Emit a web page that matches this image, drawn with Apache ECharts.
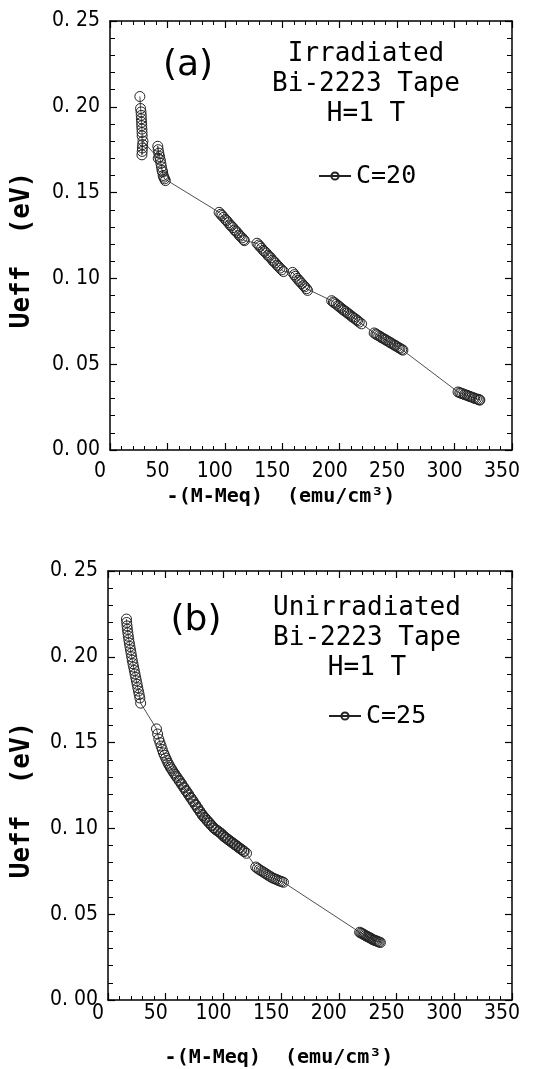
<!DOCTYPE html>
<html><head><meta charset="utf-8">
<script src="https://cdn.jsdelivr.net/npm/echarts@6/dist/echarts.min.js"></script>
<style>html,body{margin:0;padding:0;background:#fff}#c{width:542px;height:1069px}</style>
</head><body><div id="c"></div>
<script>
// ---- tick labels ----
const xTickValues = [0, 50, 100, 150, 200, 250, 300, 350];
const yTickLabels = ['0. 00', '0. 05', '0. 10', '0. 15', '0. 20', '0. 25'];

// ---- (a) Irradiated Bi-2223 Tape, H=1 T, C=20 ----
const irrX = [
  26.0, 26.6, 27.0, 27.2, 27.3, 27.5, 27.6, 27.8, 27.9, 28.0, 27.8, 28.0, 28.2, 28.4, 28.7,
  42.0, 41.6, 42.0, 42.5, 43.2, 43.8, 44.3, 44.8, 45.3, 45.8, 46.3, 46.8, 47.5, 48.2,
  95, 96.5, 97.5, 99, 100.5, 101.5, 103, 104.5, 105.5, 107, 108.5, 109.5, 111, 112.5, 113.5, 115, 116.3, 117,
  128, 129.5, 130.5, 132, 133.5, 134.5, 136, 137.5, 138.5, 140, 141.5, 142.5, 144, 145.5, 146.5, 148, 149.5, 151,
  159, 160.5, 161.5, 163, 164.5, 165.5, 167, 168.5, 169.5, 171, 172,
  193, 194.5, 195.5, 197, 198.5, 199.5, 201, 202.5, 203.5, 205, 206.5, 207.5, 209, 210.5, 211.5, 213, 214.5, 215.5, 217, 219,
  230, 231.5, 232.5, 234, 235.5, 236.5, 238, 239.5, 240.5, 242, 243.5, 244.5, 246, 247.5, 248.5, 250, 251.5, 252.5, 254, 255,
  303, 304.5, 305.5, 307, 308.5, 309.5, 311, 312.5, 313.5, 315, 316.5, 317.5, 319, 320.5, 321.5, 322
];
const irrY = [
  0.206, 0.199, 0.197, 0.195, 0.193, 0.191, 0.189, 0.187, 0.185, 0.183, 0.172, 0.174, 0.176, 0.178, 0.180,
  0.170, 0.177, 0.175, 0.173, 0.171, 0.169, 0.167, 0.165, 0.163, 0.162, 0.160, 0.159, 0.158, 0.157,
  0.1385, 0.1374, 0.1366, 0.1356, 0.1343, 0.1337, 0.1325, 0.1312, 0.1306, 0.1296, 0.1282, 0.1275, 0.1266, 0.1252, 0.1246, 0.1236, 0.1226, 0.1220,
  0.1205, 0.1195, 0.1186, 0.1176, 0.1163, 0.1157, 0.1148, 0.1135, 0.1128, 0.1120, 0.1106, 0.1099, 0.1090, 0.1077, 0.1071, 0.1060, 0.1050, 0.1040,
  0.1035, 0.1022, 0.1012, 0.1000, 0.0988, 0.0981, 0.0970, 0.0958, 0.0951, 0.0940, 0.0930,
  0.0870, 0.0862, 0.0857, 0.0850, 0.0842, 0.0836, 0.0828, 0.0820, 0.0814, 0.0808, 0.0800, 0.0794, 0.0787, 0.0779, 0.0773, 0.0767, 0.0759, 0.0753, 0.0745, 0.0735,
  0.0682, 0.0676, 0.0671, 0.0666, 0.0660, 0.0654, 0.0650, 0.0644, 0.0640, 0.0634, 0.0628, 0.0624, 0.0618, 0.0612, 0.0608, 0.0602, 0.0596, 0.0592, 0.0586, 0.0582,
  0.0338, 0.0334, 0.0331, 0.0328, 0.0324, 0.0321, 0.0318, 0.0314, 0.0311, 0.0308, 0.0304, 0.0301, 0.0298, 0.0295, 0.0292, 0.0291
];

// ---- (b) Unirradiated Bi-2223 Tape, H=1 T, C=25 ----
const unirrX = [
  16.0, 16.2, 16.5, 16.8, 17.2, 17.6, 18.0, 18.5, 19.0, 19.5, 20.0, 20.5, 21.0, 21.6, 22.2, 22.8, 23.4, 24.0, 24.6, 25.2, 25.8, 26.4, 27.0, 27.6, 28.3,
  42, 43, 44, 45, 46, 47, 48, 49, 50, 51, 52, 53, 54, 55, 56, 57, 58, 59, 60, 61.5, 62, 63.5, 64, 65.5, 66, 67.5, 68, 69.5, 70, 71.5, 72, 73.5, 74, 75.5, 76, 77.5, 78, 79.5, 80, 81.5, 82, 83.5, 84, 85.5, 86, 87.5, 88, 89.5, 90, 91.5, 92, 93.5, 94, 95.5, 96, 97.5, 98, 99.5, 100, 101.5, 102, 103.5, 104, 105.5, 106, 107.5, 108, 109.5, 110, 111.5, 112, 113.5, 114, 115.5, 116, 117.5, 118, 120,
  128, 129.5, 131, 132.5, 134, 135.5, 137, 138.5, 140, 141.5, 143, 144.5, 146, 147.5, 149, 150.5, 152,
  218, 219, 220, 221, 222, 223, 224, 225, 226, 227, 228, 229, 230, 231, 232, 233, 234, 235, 236
];
const unirrY = [
  0.222, 0.220, 0.218, 0.216, 0.214, 0.212, 0.210, 0.208, 0.206, 0.204, 0.202, 0.200, 0.198, 0.196, 0.194, 0.192, 0.190, 0.188, 0.186, 0.184, 0.182, 0.180, 0.178, 0.176, 0.173,
  0.158, 0.155, 0.152, 0.150, 0.148, 0.146, 0.144, 0.1426, 0.141, 0.1396, 0.138, 0.1368, 0.1355, 0.1346, 0.1335, 0.1324, 0.1315, 0.1304, 0.1295, 0.1281, 0.1275, 0.1262, 0.1255, 0.1241, 0.1235, 0.1221, 0.1215, 0.1202, 0.1195, 0.1181, 0.1175, 0.1162, 0.1155, 0.1141, 0.1135, 0.1121, 0.1115, 0.1101, 0.1095, 0.1082, 0.1075, 0.1065, 0.106, 0.1049, 0.1045, 0.1034, 0.103, 0.1019, 0.1015, 0.1004, 0.100, 0.0993, 0.099, 0.0983, 0.098, 0.0973, 0.097, 0.0961, 0.0955, 0.0948, 0.0945, 0.0938, 0.0935, 0.0928, 0.0925, 0.0918, 0.0915, 0.0908, 0.0905, 0.0898, 0.0895, 0.0888, 0.0885, 0.0878, 0.0875, 0.0868, 0.0865, 0.0855,
  0.0775, 0.0768, 0.0760, 0.0754, 0.0748, 0.0741, 0.0735, 0.0728, 0.0722, 0.0716, 0.0710, 0.0706, 0.0702, 0.0697, 0.0693, 0.0690, 0.0686,
  0.0395, 0.0391, 0.0388, 0.0384, 0.0380, 0.0376, 0.0372, 0.0369, 0.0365, 0.0362, 0.0358, 0.0354, 0.0350, 0.0348, 0.0345, 0.0343, 0.0340, 0.0337, 0.0335
];

const pairs = (xs, ys) => xs.map((x, i) => [x, ys[i]]);

const chart = echarts.init(document.getElementById('c'), null, {renderer: 'canvas'});
const LABEL_FONT = '"DejaVu Sans Condensed", "DejaVu Sans", sans-serif';
const MONO = '"DejaVu Sans Mono", monospace';

function xAxisCfg(gridIndex, position, showLabel, margin) {
  return {
    type: 'value', gridIndex, position, min: 0, max: 350, interval: 50,
    axisLine: {show: true, onZero: false, lineStyle: {color: '#000', width: 1.5}},
    axisTick: {show: true, inside: true, length: 7, lineStyle: {color: '#000', width: 1.2}},
    minorTick: {show: true, splitNumber: 5, length: 4, lineStyle: {color: '#000', width: 1}},
    splitLine: {show: false}, minorSplitLine: {show: false},
    axisLabel: {
      show: showLabel, margin, color: '#000', fontFamily: LABEL_FONT, fontSize: 21,
      padding: [0, 20, 0, 0],
      formatter: v => String(xTickValues[Math.round(v / 50)])
    }
  };
}
function yAxisCfg(gridIndex, position, showLabel) {
  return {
    type: 'value', gridIndex, position, min: 0, max: 0.25, interval: 0.05,
    axisLine: {show: true, onZero: false, lineStyle: {color: '#000', width: 1.5}},
    axisTick: {show: true, inside: true, length: 7, lineStyle: {color: '#000', width: 1.2}},
    minorTick: {show: true, splitNumber: 5, length: 5, lineStyle: {color: '#000', width: 1}},
    splitLine: {show: false}, minorSplitLine: {show: false},
    axisLabel: {
      show: showLabel, margin: 10, color: '#000', fontFamily: LABEL_FONT, fontSize: 21,
      formatter: v => yTickLabels[Math.round(v / 0.05)]
    }
  };
}

function seriesCfg(name, xi, yi, data) {
  return {
    name, type: 'line', xAxisIndex: xi, yAxisIndex: yi, data,
    symbol: 'circle', symbolSize: 10, showSymbol: true, showAllSymbol: true,
    lineStyle: {color: '#222', width: 0.8},
    itemStyle: {color: 'rgba(255,255,255,0)', borderColor: '#222', borderWidth: 1},
    emphasis: {disabled: true}, animation: false, clip: true
  };
}

function txt(x, y, text, font, extra) {
  return Object.assign({
    type: 'text', x, y,
    style: {text, font, fill: '#000', textAlign: 'center', textVerticalAlign: 'middle', align: 'center', verticalAlign: 'middle', lineHeight: 30}
  }, extra || {});
}

const option = {
  backgroundColor: '#fff',
  animation: false,
  grid: [
    {left: 110, top: 21, width: 402, height: 429},
    {left: 108, top: 571, width: 404, height: 429}
  ],
  xAxis: [
    xAxisCfg(0, 'bottom', true, 11),
    xAxisCfg(0, 'top', false, 8),
    xAxisCfg(1, 'bottom', true, 3),
    xAxisCfg(1, 'top', false, 8)
  ],
  yAxis: [
    yAxisCfg(0, 'left', true),
    yAxisCfg(0, 'right', false),
    yAxisCfg(1, 'left', true),
    yAxisCfg(1, 'right', false)
  ],
  legend: [
    {data: ['C=20'], left: 318, top: 163, padding: 0, itemWidth: 32, itemHeight: 9,
     textStyle: {fontFamily: MONO, fontSize: 25, color: '#000', lineHeight: 26}},
    {data: ['C=25'], left: 328, top: 703, padding: 0, itemWidth: 32, itemHeight: 9,
     textStyle: {fontFamily: MONO, fontSize: 25, color: '#000', lineHeight: 26}}
  ],
  series: [
    seriesCfg('C=20', 0, 0, pairs(irrX, irrY)),
    seriesCfg('C=25', 2, 2, pairs(unirrX, unirrY))
  ],
  graphic: [
    txt(22, 250, 'Ueff  (eV)', 'bold 26px ' + MONO, {rotation: Math.PI / 2}),
    txt(22, 800, 'Ueff  (eV)', 'bold 26px ' + MONO, {rotation: Math.PI / 2}),
    txt(281, 497, '-(M-Meq)  (emu/cm³)', 'bold 20px ' + MONO),
    txt(279, 1058, '-(M-Meq)  (emu/cm³)', 'bold 20px ' + MONO),
    txt(188, 66, '(a)', '36px "DejaVu Sans", sans-serif'),
    txt(196, 621, '(b)', '36px "DejaVu Sans", sans-serif'),
    txt(366, 84, 'Irradiated\nBi-2223 Tape\nH=1 T', '26px ' + MONO),
    txt(367, 638, 'Unirradiated\nBi-2223 Tape\nH=1 T', '26px ' + MONO)
  ]
};
chart.setOption(option);
</script>
</body></html>
